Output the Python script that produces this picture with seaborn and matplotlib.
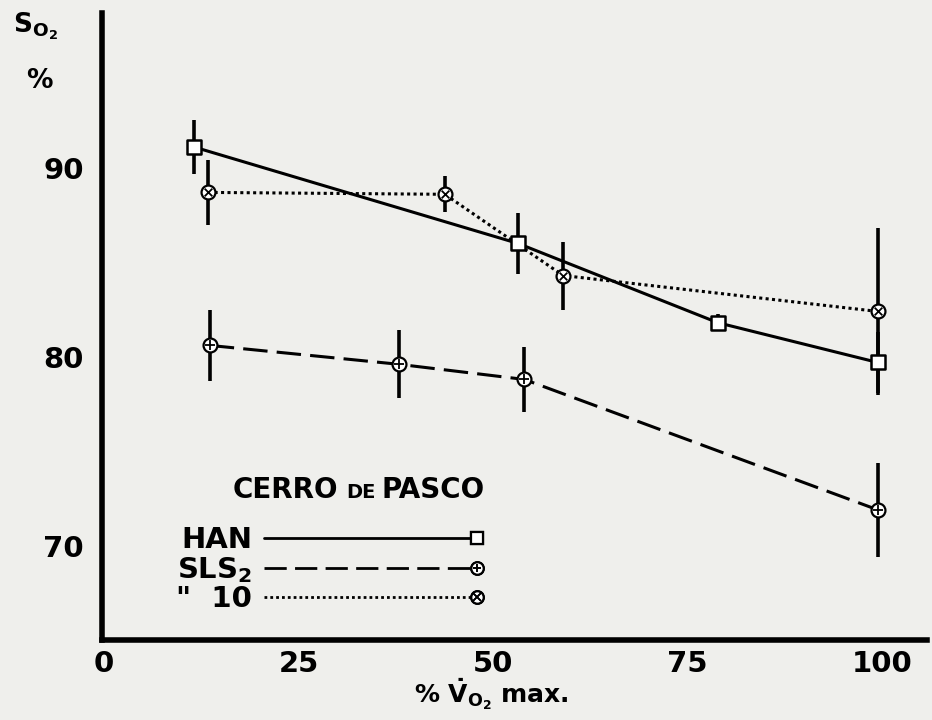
import matplotlib
matplotlib.use("Agg")
import numpy as np
import pandas as pd
import matplotlib.pyplot as plt
import seaborn as sns
from matplotlib.lines import Line2D
from matplotlib.legend_handler import HandlerLine2D, HandlerTuple

# values
han_x = [11.6, 53.2, 78.9, 99.4]
han_y = [91.1, 86.0, 81.8, 79.7]
han_err = [1.45, 1.6, 0.45, 1.6]

sls_x = [13.6, 37.9, 54.0, 99.4]
sls_y = [80.6, 79.6, 78.8, 71.9]
sls_err = [1.9, 1.8, 1.7, 2.5]

s10_x = [13.4, 43.8, 59.0, 99.4]
s10_y = [88.7, 88.6, 84.3, 82.4]
s10_err = [1.7, 0.95, 1.8, 4.4]

x_ticks = [0, 25, 50, 75, 100]
y_ticks = [70, 80, 90]

df = pd.DataFrame({
    "vo2": han_x + sls_x + s10_x,
    "so2": han_y + sls_y + s10_y,
    "err": han_err + sls_err + s10_err,
    "group": ["HAN"] * 4 + ["SLS2"] * 4 + ["10"] * 4,
})

sns.set_style("white")
plt.rcParams["font.family"] = ["DejaVu Sans"]
plt.rcParams["font.weight"] = "bold"
plt.rcParams["mathtext.fontset"] = "dejavusans"
plt.rcParams["mathtext.default"] = "bf"
plt.rcParams["text.color"] = "black"
plt.rcParams["xtick.color"] = "black"
plt.rcParams["ytick.color"] = "black"
plt.rcParams["xtick.labelcolor"] = "black"
plt.rcParams["ytick.labelcolor"] = "black"

bg = "#efefec"
fig = plt.figure(figsize=(9.32, 7.2), dpi=100, facecolor=bg)
ax = fig.add_axes([0.109, 0.111, 0.886, 0.871], facecolor=bg)

dash_map = {"HAN": "", "SLS2": (8, 3), "10": (1, 1.1)}
sns.lineplot(data=df, x="vo2", y="so2", style="group", dashes=dash_map,
             color="black", linewidth=2.2, legend=False, sort=False,
             estimator=None, ax=ax)

ax.errorbar(df["vo2"], df["so2"], yerr=df["err"], fmt="none",
            ecolor="black", elinewidth=2.6, capsize=0, zorder=3)

# markers
h = df[df.group == "HAN"]
ax.scatter(h.vo2, h.so2, marker="s", s=110, facecolor="white",
           edgecolor="black", linewidth=1.8, zorder=5)
for g, inner in [("SLS2", "+"), ("10", "x")]:
    d = df[df.group == g]
    ax.scatter(d.vo2, d.so2, marker="o", s=100, facecolor="white",
               edgecolor="black", linewidth=1.6, zorder=5)
    ax.scatter(d.vo2, d.so2, marker=inner, s=45 if inner == "+" else 30,
               color="black", linewidth=1.3, zorder=6)

ax.set_xlim(-0.3, 105.8)
ax.set_ylim(65, 98.2)
ax.set_xticks(x_ticks)
ax.set_yticks(y_ticks)
ax.tick_params(axis="both", direction="out", length=7, width=3,
               labelsize=21, color="black")
ax.tick_params(axis="y", pad=6)
ax.tick_params(axis="x", pad=0)
for lab in ax.get_xticklabels() + ax.get_yticklabels():
    lab.set_fontweight("bold")
sns.despine(ax=ax)
for side in ["left", "bottom"]:
    ax.spines[side].set_linewidth(4)
    ax.spines[side].set_color("black")
ax.set_xlabel("")
ax.set_ylabel("")

fig.text(0.014, 0.955, r"S$_{O_2}$", fontsize=19, fontweight="bold")
fig.text(0.028, 0.878, "%", fontsize=19, fontweight="bold")
fig.text(491 / 932, 1 - 694 / 720, r"% $\dot{V}_{O_2}$ max.", fontsize=18,
         fontweight="bold", ha="center", va="center")

# legend title with small-caps "DE"
fig.text(233 / 932, 1 - 498 / 720, "CERRO", fontsize=20, fontweight="bold",
         va="baseline")
fig.text(346 / 932, 1 - 498 / 720, "DE", fontsize=14, fontweight="bold",
         va="baseline")
fig.text(382 / 932, 1 - 498 / 720, "PASCO", fontsize=20, fontweight="bold",
         va="baseline")


class EndPoint(HandlerLine2D):
    def get_xdata(self, legend, xdescent, ydescent, width, height, fontsize):
        end = -xdescent + width
        return [end, end], [end]


def handle(ls, mk, inner, hmap):
    line = Line2D([], [], color="black", linestyle=ls, linewidth=2)
    outer = Line2D([], [], linestyle="none", marker=mk, markersize=9,
                   markerfacecolor="white", markeredgecolor="black",
                   markeredgewidth=1.6)
    parts = [line, outer]
    if inner:
        parts.append(Line2D([], [], linestyle="none", marker=inner,
                            markersize=6, color="black", markeredgewidth=1.2))
    for p in parts[1:]:
        hmap[p] = EndPoint(numpoints=2)
    return tuple(parts)


hmap = {tuple: HandlerTuple(ndivide=1)}
handles = [handle("-", "s", None, hmap), handle((0, (8, 3)), "o", "+", hmap),
           handle((0, (1, 1.1)), "o", "x", hmap)]
labels = ["HAN", "SLS$_2$", '"  10']
leg = ax.legend(handles, labels, loc="upper left",
                bbox_to_anchor=(150 / 932, 1 - 500 / 720),
                bbox_transform=fig.transFigure, frameon=False,
                markerfirst=False, handlelength=7.3, handletextpad=0.4,
                labelspacing=0.02, fontsize=21, handler_map=hmap)
for t in leg.get_texts():
    t.set_fontweight("bold")
    t.set_color("black")

fig.savefig("out.png", dpi=100, facecolor=bg)
